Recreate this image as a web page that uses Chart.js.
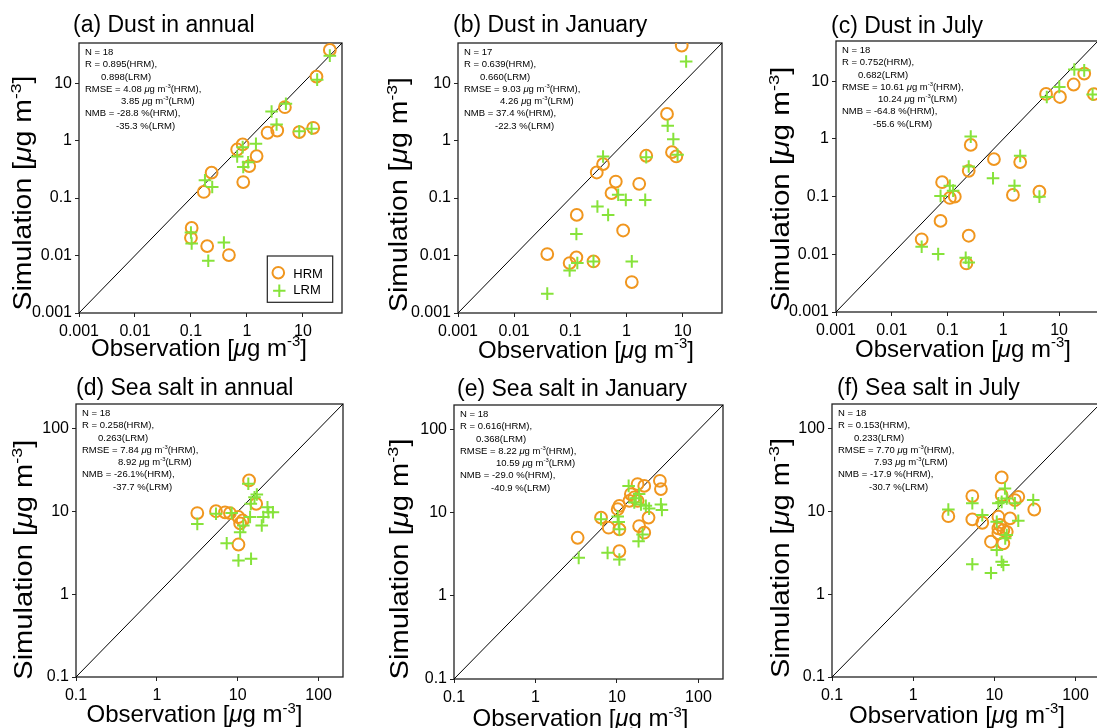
<!DOCTYPE html>
<html>
<head>
<meta charset="utf-8">
<script src="https://cdn.jsdelivr.net/npm/chart.js@4.4.0/dist/chart.umd.min.js"></script>
<style>
html, body { margin: 0; padding: 0; background: #fff; }
#wrap { position: relative; width: 1097px; height: 728px; overflow: hidden; background: #fff; }
#wrap canvas { position: absolute; }
</style>
</head>
<body>
<div id="wrap"></div>
<script>
// ---- axis ranges / ticks ----
const dustRange = [0.001, 50];
const dustTicks = [0.001, 0.01, 0.1, 1, 10];
const saltRange = [0.1, 200];
const saltTicks = [0.1, 1, 10, 100];

// ---- (a) dust, annual ----
const dustAnnualObsHRM = [30.3, 17.5, 4.77, 15.3, 8.6, 3.48, 2.34, 1.49, 1.10, 0.84, 0.67, 0.86, 0.234, 0.17, 0.103, 0.10, 0.195, 0.477];
const dustAnnualSimHRM = [37.8, 13.0, 3.82, 1.67, 1.41, 1.50, 1.37, 0.538, 0.36, 0.86, 0.70, 0.19, 0.277, 0.128, 0.0303, 0.0203, 0.0146, 0.0102];
const dustAnnualObsLRM = [30.3, 18.0, 4.97, 2.76, 3.39, 8.6, 14.3, 1.45, 1.05, 0.86, 0.84, 0.67, 0.178, 0.24, 0.10, 0.103, 0.204, 0.388];
const dustAnnualSimLRM = [30.1, 11.5, 4.37, 3.21, 1.91, 1.46, 1.61, 0.88, 0.42, 0.347, 0.77, 0.53, 0.204, 0.156, 0.0252, 0.0162, 0.0081, 0.0169];

// ---- (b) dust, January ----
const dustJanObsHRM = [9.6, 5.25, 6.44, 7.69, 2.24, 0.382, 0.295, 0.644, 1.68, 0.54, 0.13, 0.87, 0.0388, 0.128, 0.097, 0.258, 1.24];
const dustJanSimHRM = [45.1, 2.92, 0.63, 0.53, 0.545, 0.39, 0.279, 0.194, 0.177, 0.122, 0.051, 0.0273, 0.0106, 0.0093, 0.0074, 0.0079, 0.00346];
const dustJanObsLRM = [11.5, 5.4, 6.8, 8.1, 2.24, 0.382, 0.71, 0.97, 2.15, 0.303, 0.47, 0.128, 1.24, 0.258, 0.133, 0.097, 0.0388];
const dustJanSimLRM = [23.8, 1.81, 1.06, 0.566, 0.516, 0.53, 0.114, 0.093, 0.093, 0.0715, 0.051, 0.0237, 0.0079, 0.0079, 0.0074, 0.0055, 0.00217];

// ---- (c) dust, July ----
const dustJulObsHRM = [28.3, 18.3, 10.4, 5.86, 42, 0.261, 0.68, 2.01, 0.24, 0.080, 0.11, 0.135, 1.49, 4.45, 0.075, 0.0344, 0.24, 0.218];
const dustJulSimHRM = [13.6, 8.8, 5.35, 6.04, 6.0, 0.79, 0.447, 0.397, 0.28, 0.178, 0.095, 0.1, 0.107, 0.122, 0.038, 0.0182, 0.021, 0.00695];
const dustJulObsLRM = [28.3, 18.8, 10.1, 6.03, 40, 0.261, 0.24, 2.01, 0.655, 1.59, 4.45, 0.11, 0.126, 0.075, 0.0344, 0.068, 0.212, 0.24];
const dustJulSimLRM = [15.5, 16.0, 8.0, 5.35, 5.9, 1.10, 0.333, 0.51, 0.209, 0.155, 0.1, 0.155, 0.127, 0.103, 0.0135, 0.0101, 0.0087, 0.0072];

// ---- (d) sea salt, annual ----
const saltAnnualObsHRM = [13.8, 3.16, 5.38, 6.96, 8.0, 10.2, 11.5, 10.7, 16.9, 10.2];
const saltAnnualSimHRM = [23.8, 9.6, 10.1, 9.8, 9.6, 8.6, 7.8, 7.2, 12.4, 4.0];
const saltAnnualObsLRM = [13.5, 17.2, 16.1, 14.5, 23.3, 27.2, 23.9, 20.7, 19.8, 14.2, 8.4, 5.38, 3.16, 11.7, 10.7, 7.3, 10.2, 14.6];
const saltAnnualSimLRM = [21.7, 16.1, 14.9, 12.4, 11.3, 9.8, 9.8, 8.6, 6.8, 8.6, 9.6, 9.4, 7.1, 6.8, 5.64, 4.15, 2.57, 2.69];

// ---- (e) sea salt, January ----
const saltJanObsHRM = [33.6, 34.6, 17.9, 21.6, 14.8, 16.3, 14.2, 10.7, 10.2, 24.4, 6.37, 7.9, 18.7, 21.6, 10.7, 3.29, 10.7, 17.9];
const saltJanSimHRM = [24.4, 19.4, 22.3, 21.2, 16.9, 15.4, 14.0, 12.2, 11.1, 8.8, 8.8, 6.65, 6.96, 5.79, 6.35, 5.03, 3.46, 14.0];
const saltJanObsLRM = [13.9, 18.7, 16.3, 19.7, 22.6, 24.8, 34.6, 35.6, 6.37, 10.5, 10.7, 20.6, 18.4, 7.67, 10.7, 3.39, 10.2, 17.0];
const saltJanSimLRM = [21.2, 16.9, 13.4, 12.7, 12.2, 11.3, 12.7, 10.9, 8.4, 7.78, 6.35, 5.52, 4.58, 3.31, 2.75, 2.88, 9.1, 15.0];

// ---- (f) sea salt, July ----
const saltJulObsHRM = [12.3, 5.35, 12.3, 19.7, 17.9, 31, 2.71, 5.35, 7.1, 11.2, 15.6, 11.2, 12.9, 14.2, 11.2, 9.08, 12.9, 11.7];
const saltJulSimHRM = [25.9, 15.4, 15.8, 15.1, 13.8, 10.6, 8.8, 8.05, 7.33, 8.66, 8.28, 6.27, 5.98, 5.7, 5.46, 4.32, 4.13, 6.9];
const saltJulObsLRM = [13.5, 12.3, 14.2, 11.2, 17.9, 30.1, 5.35, 2.71, 7.1, 10.7, 19.7, 14.2, 13.6, 10.7, 5.35, 12.3, 12.9, 9.08];
const saltJulSimLRM = [19.0, 13.1, 14.4, 12.6, 12.6, 13.8, 12.6, 10.6, 9.07, 7.54, 7.74, 5.21, 4.75, 3.43, 2.31, 2.48, 2.26, 1.81];

// ---- statistics text ----
const statsA = ['N = 18', 'R = 0.895(HRM),', '0.898(LRM)', 'RMSE = 4.08 *μ*g m^{-3}(HRM),', '3.85 *μ*g m^{-3}(LRM)', 'NMB = -28.8 %(HRM),', '-35.3 %(LRM)'];
const statsB = ['N = 17', 'R = 0.639(HRM),', '0.660(LRM)', 'RMSE = 9.03 *μ*g m^{-3}(HRM),', '4.26 *μ*g m^{-3}(LRM)', 'NMB = 37.4 %(HRM),', '-22.3 %(LRM)'];
const statsC = ['N = 18', 'R = 0.752(HRM),', '0.682(LRM)', 'RMSE = 10.61 *μ*g m^{-3}(HRM),', '10.24 *μ*g m^{-3}(LRM)', 'NMB = -64.8 %(HRM),', '-55.6 %(LRM)'];
const statsD = ['N = 18', 'R = 0.258(HRM),', '0.263(LRM)', 'RMSE = 7.84 *μ*g m^{-3}(HRM),', '8.92 *μ*g m^{-3}(LRM)', 'NMB = -26.1%(HRM),', '-37.7 %(LRM)'];
const statsE = ['N = 18', 'R = 0.616(HRM),', '0.368(LRM)', 'RMSE = 8.22 *μ*g m^{-3}(HRM),', '10.59 *μ*g m^{-3}(LRM)', 'NMB = -29.0 %(HRM),', '-40.9 %(LRM)'];
const statsF = ['N = 18', 'R = 0.153(HRM),', '0.233(LRM)', 'RMSE = 7.70 *μ*g m^{-3}(HRM),', '7.93 *μ*g m^{-3}(LRM)', 'NMB = -17.9 %(HRM),', '-30.7 %(LRM)'];

const xLabel = 'Observation [*μ*g m^{-3}]';
const yLabel = 'Simulation [*μ*g m^{-3}]';

const FONT = '"Liberation Sans", Arial, Helvetica, sans-serif';
const HRM_COLOR = '#F0961E';
const LRM_COLOR = '#86E33A';
const LINE_INDENT = [0, 0, 16, 0, 36, 0, 31];

// layout of each panel (absolute page pixels)
const panels = [
    { title: '(a) Dust in annual', range: dustRange, ticks: dustTicks, hrm: [dustAnnualObsHRM, dustAnnualSimHRM], lrm: [dustAnnualObsLRM, dustAnnualSimLRM], stats: statsA,
      area: [79, 43, 342, 313], titleX: 73, titleY: 32.3, xtX: 199, xtY: 356, ytX: 31, ytY: 193, ytLen: 235, legend: true },
    { title: '(b) Dust in January', range: dustRange, ticks: dustTicks, hrm: [dustJanObsHRM, dustJanSimHRM], lrm: [dustJanObsLRM, dustJanSimLRM], stats: statsB,
      area: [458, 43, 722, 313], titleX: 453, titleY: 32.3, xtX: 586, xtY: 358, ytX: 406.5, ytY: 194.5, ytLen: 235 },
    { title: '(c) Dust in July', range: dustRange, ticks: dustTicks, hrm: [dustJulObsHRM, dustJulSimHRM], lrm: [dustJulObsLRM, dustJulSimLRM], stats: statsC,
      area: [836, 41, 1098, 312], titleX: 831, titleY: 32.7, xtX: 963, xtY: 357, ytX: 788.5, ytY: 189, ytLen: 245 },
    { title: '(d) Sea salt in annual', range: saltRange, ticks: saltTicks, hrm: [saltAnnualObsHRM, saltAnnualSimHRM], lrm: [saltAnnualObsLRM, saltAnnualSimLRM], stats: statsD,
      area: [76, 404, 343, 677], titleX: 76, titleY: 394.7, xtX: 194.5, xtY: 722.3, ytX: 31.7, ytY: 559.7, ytLen: 240 },
    { title: '(e) Sea salt in January', range: saltRange, ticks: saltTicks, hrm: [saltJanObsHRM, saltJanSimHRM], lrm: [saltJanObsLRM, saltJanSimLRM], stats: statsE,
      area: [454, 405, 723, 679], titleX: 457, titleY: 395.7, xtX: 580.5, xtY: 726.3, ytX: 408.3, ytY: 559, ytLen: 241 },
    { title: '(f) Sea salt in July', range: saltRange, ticks: saltTicks, hrm: [saltJulObsHRM, saltJulSimHRM], lrm: [saltJulObsLRM, saltJulSimLRM], stats: statsF,
      area: [832, 404, 1100, 677], titleX: 837, titleY: 395.3, xtX: 957, xtY: 723, ytX: 788.7, ytY: 558, ytLen: 240 }
];

// ---- rich text (italic *..*, superscript ^{..}) ----
function parseRich(str) {
    const segs = [];
    let italic = false, buf = '', i = 0;
    const flush = sup => { if (buf) segs.push({ t: buf, italic, sup }); buf = ''; };
    while (i < str.length) {
        const c = str[i];
        if (c === '*') { flush(false); italic = !italic; i++; }
        else if (c === '^' && str[i + 1] === '{') {
            flush(false);
            const j = str.indexOf('}', i);
            buf = str.slice(i + 2, j);
            flush(true);
            i = j + 1;
        } else { buf += c; i++; }
    }
    flush(false);
    return segs;
}
function segFont(s, size) { return (s.italic ? 'italic ' : '') + (s.sup ? size * 0.62 : size) + 'px ' + FONT; }
function richWidth(ctx, segs, size) {
    let w = 0;
    segs.forEach(s => { ctx.font = segFont(s, size); w += ctx.measureText(s.t).width; });
    return w;
}
function drawRich(ctx, str, x, y, size, align) {
    const segs = parseRich(str);
    const w = richWidth(ctx, segs, size);
    let cx = align === 'center' ? x - w / 2 : x;
    ctx.textAlign = 'left';
    ctx.textBaseline = 'alphabetic';
    segs.forEach(s => {
        ctx.font = segFont(s, size);
        ctx.fillText(s.t, cx, s.sup ? y - size * 0.4 : y);
        cx += ctx.measureText(s.t).width;
    });
    return w;
}

function toPoints(xs, ys) { return xs.map((x, i) => ({ x: x, y: ys[i] })); }

const decorPlugin = {
    id: 'decor',
    beforeDatasetsDraw(chart) {
        const ctx = chart.ctx, ca = chart.chartArea;
        ctx.save();
        ctx.strokeStyle = '#222';
        ctx.lineWidth = 1.3;
        ctx.strokeRect(ca.left, ca.top, ca.right - ca.left, ca.bottom - ca.top);
        ctx.restore();
    },
    afterDatasetsDraw(chart) {
        const p = chart.options.plugins.decor.panel;
        const ox = p.area[0] - 79, oy = p.area[1] - 43;
        const ctx = chart.ctx, ca = chart.chartArea;
        ctx.save();
        ctx.fillStyle = '#000';

        // panel title
        ctx.font = '23px ' + FONT;
        ctx.textAlign = 'left';
        ctx.textBaseline = 'alphabetic';
        ctx.fillText(p.title, p.titleX - ox, p.titleY - oy);

        // statistics
        p.stats.forEach((line, i) => {
            const y = ca.top + 8.5 + i * 12.3 + 3.4;
            drawRich(ctx, line, ca.left + 6 + LINE_INDENT[i], y, 9.5, 'left');
        });

        // axis titles
        drawRich(ctx, xLabel, p.xtX - ox, p.xtY - oy, 24, 'center');
        ctx.save();
        ctx.translate(p.ytX - ox, p.ytY - oy);
        ctx.rotate(-Math.PI / 2);
        const w = richWidth(ctx, parseRich(yLabel), 25);
        ctx.scale(p.ytLen / w, 1);
        drawRich(ctx, yLabel, 0, 0, 25, 'center');
        ctx.restore();

        // legend box
        if (p.legend) {
            const bx = ca.right - 74.7, by = ca.bottom - 57;
            ctx.fillStyle = '#fff';
            ctx.fillRect(bx, by, 65.4, 46.3);
            ctx.strokeStyle = '#222';
            ctx.lineWidth = 1.2;
            ctx.strokeRect(bx, by, 65.4, 46.3);
            ctx.lineWidth = 2;
            ctx.strokeStyle = HRM_COLOR;
            ctx.beginPath();
            ctx.arc(bx + 11, by + 16.7, 5.8, 0, Math.PI * 2);
            ctx.stroke();
            ctx.strokeStyle = LRM_COLOR;
            ctx.beginPath();
            ctx.moveTo(bx + 12 - 6.2, by + 34.7); ctx.lineTo(bx + 12 + 6.2, by + 34.7);
            ctx.moveTo(bx + 12, by + 34.7 - 6.2); ctx.lineTo(bx + 12, by + 34.7 + 6.2);
            ctx.stroke();
            ctx.fillStyle = '#000';
            ctx.font = '13px ' + FONT;
            ctx.textBaseline = 'middle';
            ctx.fillText('HRM', bx + 26, by + 18);
            ctx.fillText('LRM', bx + 26, by + 34.7);
        }
        ctx.restore();
    }
};

function axisOptions(p, isX) {
    return {
        type: 'logarithmic',
        position: isX ? 'bottom' : 'left',
        min: p.range[0],
        max: p.range[1],
        afterBuildTicks: s => { s.ticks = p.ticks.map(v => ({ value: v })); },
        afterFit: s => { if (isX) s.height = 30; else s.width = 60; },
        ticks: {
            autoSkip: false,
            maxRotation: 0,
            padding: isX ? 5 : 3,
            color: '#000',
            font: { family: FONT, size: 16 },
            callback: v => String(v)
        },
        grid: { drawOnChartArea: false, drawTicks: true, tickLength: 4, color: '#222', tickColor: '#222' },
        border: { display: false }
    };
}

const wrap = document.getElementById('wrap');

panels.forEach(p => {
    const [L, T, R, B] = p.area;
    const cw = R - L + 91, ch = B - T + 98;
    const canvas = document.createElement('canvas');
    canvas.width = cw;
    canvas.height = ch;
    canvas.style.left = (L - 79) + 'px';
    canvas.style.top = (T - 43) + 'px';
    canvas.style.width = cw + 'px';
    canvas.style.height = ch + 'px';
    wrap.appendChild(canvas);

    new Chart(canvas, {
        type: 'scatter',
        data: {
            datasets: [
                { type: 'line', label: '1:1', data: [{ x: p.range[0], y: p.range[0] }, { x: p.range[1], y: p.range[1] }],
                  borderColor: '#000', borderWidth: 1, pointRadius: 0, order: 3 },
                { label: 'HRM', data: toPoints(p.hrm[0], p.hrm[1]), pointStyle: 'circle', pointRadius: 5.9,
                  borderColor: HRM_COLOR, backgroundColor: 'rgba(0,0,0,0)', borderWidth: 2, order: 2 },
                { label: 'LRM', data: toPoints(p.lrm[0], p.lrm[1]), pointStyle: 'cross', pointRadius: 6.3,
                  borderColor: LRM_COLOR, backgroundColor: LRM_COLOR, borderWidth: 2, order: 1 }
            ]
        },
        options: {
            responsive: false,
            animation: false,
            devicePixelRatio: 1,
            layout: { padding: { left: 19, top: 43, right: 12, bottom: 25 } },
            plugins: {
                legend: { display: false },
                tooltip: { enabled: false },
                decor: { panel: p }
            },
            scales: { x: axisOptions(p, true), y: axisOptions(p, false) }
        },
        plugins: [decorPlugin]
    });
});
</script>
</body>
</html>
